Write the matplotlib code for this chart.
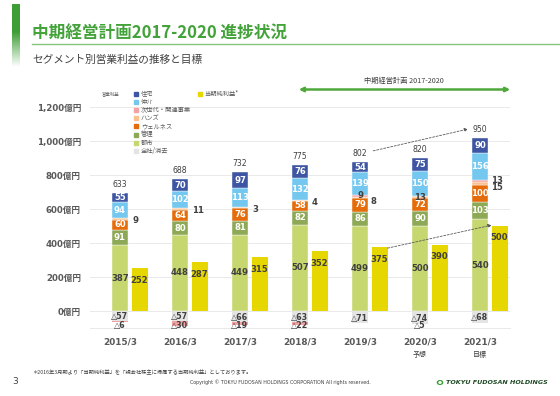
import matplotlib
matplotlib.use('Agg')
import matplotlib.pyplot as plt
import numpy as np
from matplotlib.patches import Rectangle, Circle, FancyArrowPatch
from matplotlib.transforms import blended_transform_factory

# ---------------- data ----------------
years = ['2015/3', '2016/3', '2017/3', '2018/3', '2019/3', '2020/3', '2021/3']
notes = ['', '', '', '', '', '予想', '目標']
toshi = [387, 448, 449, 507, 499, 500, 540]        # 都市
kanri = [91, 80, 81, 82, 86, 90, 103]              # 管理
wellness = [60, 64, 76, 58, 79, 72, 100]           # ウェルネス
hands = [9, 11, 3, 4, 8, 13, 15]                   # ハンズ
jisedai = [-6, -30, -19, -22, 9, -5, 13]           # 次世代・関連事業
chukai = [94, 102, 113, 132, 139, 150, 156]        # 仲介
jutaku = [55, 70, 97, 76, 54, 75, 90]              # 住宅
zensha = [-57, -57, -66, -63, -71, -74, -68]       # 全社/消去
net_income = [252, 287, 315, 352, 375, 390, 500]   # 当期純利益
totals = [633, 688, 732, 775, 802, 820, 950]
yticks = [0, 200, 400, 600, 800, 1000, 1200]

seg_names = ['都市', '管理', 'ウェルネス', 'ハンズ', '次世代・関連事業', '仲介', '住宅']
seg_colors = ['#C5D76E', '#8EA955', '#E46C0A', '#FAC090', '#F2A2A2', '#74C7EF', '#3D55A2']
gray_c = '#E4E4E4'
yellow_c = '#E6D700'
green_c = '#43A33A'
dark = '#404040'

JP = ['Noto Sans CJK JP', 'DejaVu Sans']
NUM = ['DejaVu Sans', 'Noto Sans CJK JP']

W, H = 560, 396
def fx(v):
    return v / W
def fy(v):
    return 1 - v / H

fig = plt.figure(figsize=(W / 100, H / 100), dpi=100)
fig.patch.set_facecolor('white')

# ---------------- header ----------------
gax = fig.add_axes([fx(12), fy(67), 8 / W, 63 / H])
n = 100
grad = np.ones((n, 1, 4))
base = np.array(matplotlib.colors.to_rgb('#3E9E36'))
for k in range(n):
    ypx = 4 + 63 * k / (n - 1)
    a = 1.0 if ypx < 32 else max(0.0, 1 - (ypx - 32) / 35)
    grad[k, 0, :3] = base
    grad[k, 0, 3] = a
gax.imshow(grad, aspect='auto', interpolation='bilinear')
gax.axis('off')

fig.text(fx(32), fy(32.5), '中期経営計画2017-2020 進捗状況', color=green_c,
         fontsize=12.0, fontweight='bold', family=JP, va='center', ha='left')
fig.add_artist(plt.Line2D([fx(32), 1.0], [fy(43.5), fy(43.5)], color='#86C57A',
                          lw=1.0, transform=fig.transFigure))
fig.text(fx(32), fy(59.5), 'セグメント別営業利益の推移と目標', color=dark,
         fontsize=7.7, family=JP, va='center', ha='left')

fig.text(fx(404), fy(81), '中期経営計画 2017-2020', color=dark, fontsize=5.2,
         family=JP, va='center', ha='center')
fig.add_artist(FancyArrowPatch((fx(296), fy(89.5)), (fx(513), fy(89.5)),
                               transform=fig.transFigure, arrowstyle='<|-|>',
                               mutation_scale=6, color='#4EA83A', lw=1.8))

# ---------------- chart ----------------
ax = fig.add_axes([fx(90), fy(328), 420 / W, 248 / H])
ax.set_xlim(-0.5, 6.5)
ax.set_ylim(-100, -100 + 248 / 0.17)
for s in ax.spines.values():
    s.set_visible(False)

x = np.arange(len(years))
bw = 0.283
yw = 0.268
yoff = 0.328

ax.set_yticks(yticks)
ax.set_yticklabels([f'{v:,}億円' for v in yticks], family=NUM, fontweight='bold',
                   fontsize=6.2, color='#595959')
ax.tick_params(axis='y', length=0, pad=6.5)
ax.set_xticks(x)
ax.set_xticklabels(years, family=NUM, fontweight='bold', fontsize=6.4, color='#595959')
ax.tick_params(axis='x', length=0, pad=7)
ax.grid(axis='y', color='#E9E9E9', lw=0.7, zorder=0)
ax.axhline(-100, color='#E9E9E9', lw=0.7, zorder=0, clip_on=False)
ax.set_axisbelow(True)

segs = [toshi, kanri, wellness, hands, [max(v, 0) for v in jisedai], chukai, jutaku]
bottom = np.zeros(len(years))
mids = []
for vals, c in zip(segs, seg_colors):
    vals = np.array(vals, dtype=float)
    ax.bar(x, vals, bw, bottom=bottom, color=c, edgecolor='white', linewidth=0.3, zorder=3)
    mids.append(bottom + vals / 2)
    bottom = bottom + vals
pos_top = bottom

neg_j = np.array([min(v, 0) for v in jisedai], dtype=float)
ax.bar(x, zensha, bw, color=gray_c, zorder=3)
ax.bar(x, neg_j, bw, bottom=zensha, color=seg_colors[4], zorder=3)

ax.bar(x + yoff, net_income, yw, color=yellow_c, zorder=3)

lab_kw = dict(ha='center', va='center', fontweight='bold', fontsize=6.1, family=NUM, zorder=5)
neg_kw = dict(ha='center', va='center', fontweight='bold', fontsize=5.8, family=NUM, zorder=5)
for i in range(len(years)):
    ax.text(x[i], mids[0][i], f'{toshi[i]}', color=dark, **lab_kw)
    for si, vals in [(1, kanri), (2, wellness), (5, chukai), (6, jutaku)]:
        ax.text(x[i], mids[si][i], f'{vals[i]}', color='white', **lab_kw)
    ax.text(x[i] + yoff, net_income[i] - 70, f'{net_income[i]}', color=dark, **lab_kw)
    ax.annotate(f'{totals[i]}', (x[i], pos_top[i]), xytext=(0, 3), textcoords='offset points',
                ha='center', va='bottom', fontsize=5.6, color=dark, family=NUM, zorder=5)
    ax.text(x[i], zensha[i] / 2 - 6, f'△{-zensha[i]}', color=dark, **neg_kw)
    if jisedai[i] < 0:
        ax.text(x[i], -83, f'△{-jisedai[i]}', color=dark, **neg_kw)

side_kw = dict(va='center', fontweight='bold', fontsize=6.1, family=NUM, color=dark, zorder=5)
for i in range(len(years)):
    if i == 5:
        ax.text(x[i], mids[3][i], f'{hands[i]}', ha='center', **side_kw)
    elif i == 4:
        ax.text(x[i] + bw / 2 + 0.04, mids[3][i] - 21, f'{hands[i]}', ha='left', **side_kw)
        ax.text(x[i], mids[4][i] + 4, f'{jisedai[i]}', ha='center', **side_kw)
    elif i == 6:
        ax.text(x[i] + bw / 2 + 0.04, mids[3][i] - 26, f'{hands[i]}', ha='left', **side_kw)
        ax.text(x[i] + bw / 2 + 0.04, mids[4][i] + 6, f'{jisedai[i]}', ha='left', **side_kw)
    else:
        ax.text(x[i] + bw / 2 + 0.06, mids[3][i] - 8, f'{hands[i]}', ha='left', **side_kw)

tr = blended_transform_factory(ax.transData, fig.transFigure)
for i, nt in enumerate(notes):
    if nt:
        ax.text(x[i], fy(355), nt, transform=tr, ha='center', va='center',
                fontsize=5.0, color=dark, family=JP)

ap = dict(arrowstyle='-|>', linestyle=(0, (2.5, 1.8)), color='#595959', lw=0.6,
          mutation_scale=5, shrinkA=0, shrinkB=0)
ax.annotate('', xy=(x[6] - 0.2, totals[6] + 120), xytext=(x[4] + 0.22, totals[4] + 140),
            arrowprops=ap, zorder=6)
ax.annotate('', xy=(x[6] + yoff - yw / 2, net_income[6] + 5),
            xytext=(x[4] + yoff + yw / 2, net_income[4] - 5), arrowprops=ap, zorder=6)

# ---------------- legend ----------------
fig.text(fx(102), fy(94), '営業利益', fontsize=3.2, color='#595959', family=JP,
         va='center', ha='left')
leg_names = seg_names[::-1] + ['全社/消去']
leg_colors = seg_colors[::-1] + [gray_c]
for k, (nm, c) in enumerate(zip(leg_names, leg_colors)):
    yy = 94 + 8.1 * k
    fig.add_artist(Rectangle((fx(134), fy(yy + 2)), 4 / W, 4 / H, color=c,
                             transform=fig.transFigure))
    fig.text(fx(141), fy(yy), nm, fontsize=4.5, color='#595959', family=JP,
             va='center', ha='left')
fig.add_artist(Rectangle((fx(198), fy(96)), 4 / W, 4 / H, color=yellow_c,
                         transform=fig.transFigure))
fig.text(fx(204), fy(94), '当期純利益*', fontsize=4.5, color='#595959', family=JP,
         va='center', ha='left')

# ---------------- footer ----------------
fig.text(fx(32), fy(372), '＊2016年3月期より「当期純利益」を「親会社株主に帰属する当期純利益」としております。',
         fontsize=3.8, color=dark, family=JP, va='center', ha='left')
fig.text(fx(12), fy(381), '3', fontsize=6.5, color=dark, family=NUM, va='center', ha='left')
fig.text(fx(280), fy(382), 'Copyright © TOKYU FUDOSAN HOLDINGS CORPORATION All rights reserved.',
         fontsize=3.4, color=dark, family=NUM, va='center', ha='center')
fig.add_artist(Circle((fx(440), fy(382.5)), 2.6 / W, color='#3EA03A',
                      transform=fig.transFigure))
fig.add_artist(Circle((fx(440), fy(382.5)), 1.0 / W, color='white',
                      transform=fig.transFigure))
fig.text(fx(446), fy(382.5), 'TOKYU FUDOSAN HOLDINGS', fontsize=4.6, color='#1F4A26',
         family=NUM, fontweight='bold', fontstyle='italic', va='center', ha='left')

fig.savefig('out.png', dpi=100)
